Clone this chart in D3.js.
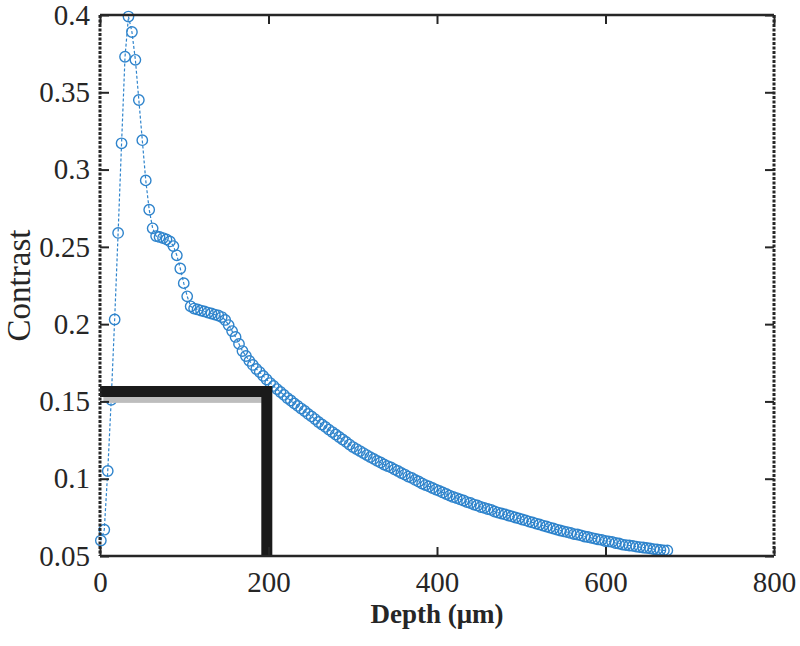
<!DOCTYPE html>
<html>
<head>
<meta charset="utf-8">
<script src="https://cdn.jsdelivr.net/npm/d3@7"></script>
<style>
  body { margin: 0; background: #fff; }
  text { font-family: "Liberation Serif", "Times New Roman", serif; fill: #262626; }
</style>
</head>
<body>
<svg id="chart" width="800" height="646"></svg>
<script>
// depth samples (µm)
const depth = [
  1.0, 5.1, 9.2, 13.3, 17.4, 21.5, 25.6, 29.7, 33.8, 37.9,
  42.0, 46.1, 50.2, 54.3, 58.4, 62.5, 66.6, 70.7, 74.8, 78.9,
  83.0, 87.1, 91.2, 95.3, 99.4, 103.5, 107.6, 111.7, 115.8, 119.9,
  124.0, 128.1, 132.2, 136.3, 140.4, 144.5, 148.6, 152.7, 156.8, 160.9,
  165.0, 169.1, 173.2, 177.3, 181.4, 185.5, 189.6, 193.7, 197.8, 201.9,
  206.0, 210.1, 214.2, 218.3, 222.4, 226.5, 230.6, 234.7, 238.8, 242.9,
  247.0, 251.1, 255.2, 259.3, 263.4, 267.5, 271.6, 275.7, 279.8, 283.9,
  288.0, 292.1, 296.2, 300.3, 304.4, 308.5, 312.6, 316.7, 320.8, 324.9,
  329.0, 333.1, 337.2, 341.3, 345.4, 349.5, 353.6, 357.7, 361.8, 365.9,
  370.0, 374.1, 378.2, 382.3, 386.4, 390.5, 394.6, 398.7, 402.8, 406.9,
  411.0, 415.1, 419.2, 423.3, 427.4, 431.5, 435.6, 439.7, 443.8, 447.9,
  452.0, 456.1, 460.2, 464.3, 468.4, 472.5, 476.6, 480.7, 484.8, 488.9,
  493.0, 497.1, 501.2, 505.3, 509.4, 513.5, 517.6, 521.7, 525.8, 529.9,
  534.0, 538.1, 542.2, 546.3, 550.4, 554.5, 558.6, 562.7, 566.8, 570.9,
  575.0, 579.1, 583.2, 587.3, 591.4, 595.5, 599.6, 603.7, 607.8, 611.9,
  616.0, 620.1, 624.2, 628.3, 632.4, 636.5, 640.6, 644.7, 648.8, 652.9,
  657.0, 661.1, 665.2, 669.3, 673.4
];
// contrast at each depth
const contrast = [
  0.060, 0.067, 0.105, 0.151, 0.203, 0.259, 0.317, 0.373, 0.399, 0.389,
  0.371, 0.345, 0.319, 0.293, 0.274, 0.262, 0.257, 0.2564, 0.2557, 0.2548,
  0.2535, 0.2505, 0.2445, 0.236, 0.2265, 0.218, 0.2115, 0.2101, 0.2095, 0.2088,
  0.2082, 0.2075, 0.2069, 0.2062, 0.2056, 0.2046, 0.2027, 0.1994, 0.1955, 0.1917,
  0.1872, 0.1826, 0.1794, 0.1762, 0.1736, 0.171, 0.169, 0.1665, 0.1642, 0.1619,
  0.160, 0.158, 0.1561, 0.1542, 0.1522, 0.1506, 0.1487, 0.1471, 0.1454, 0.1438,
  0.1419, 0.1403, 0.1386, 0.1367, 0.1351, 0.1335, 0.1318, 0.1302, 0.1286, 0.127,
  0.1254, 0.1238, 0.1221, 0.1205, 0.1192, 0.1179, 0.1166, 0.1153, 0.114, 0.1128,
  0.1115, 0.1105, 0.1092, 0.1082, 0.1073, 0.106, 0.105, 0.1037, 0.1027, 0.1014,
  0.1005, 0.0992, 0.0982, 0.0969, 0.0959, 0.095, 0.094, 0.093, 0.0921, 0.0911,
  0.0901, 0.0891, 0.0882, 0.0875, 0.0866, 0.0859, 0.0849, 0.0843, 0.0833, 0.0827,
  0.0817, 0.0811, 0.0804, 0.0798, 0.0788, 0.0781, 0.0775, 0.0769, 0.0762, 0.0756,
  0.0749, 0.0743, 0.0736, 0.073, 0.0723, 0.0717, 0.071, 0.0704, 0.0697, 0.0691,
  0.0684, 0.0678, 0.0671, 0.0665, 0.0659, 0.0655, 0.0649, 0.0642, 0.0639, 0.0633,
  0.0626, 0.0623, 0.0617, 0.0613, 0.0607, 0.0604, 0.0597, 0.0594, 0.0591, 0.0584,
  0.0581, 0.0574, 0.0571, 0.0568, 0.0565, 0.0561, 0.0558, 0.0555, 0.0552, 0.0549,
  0.0545, 0.0542, 0.0539, 0.0536, 0.0536
];

const xTicks = [0, 200, 400, 600, 800];
const xTickLabels = ["0", "200", "400", "600", "800"];
const yTicks = [0.05, 0.1, 0.15, 0.2, 0.25, 0.3, 0.35, 0.4];
const yTickLabels = ["0.05", "0.1", "0.15", "0.2", "0.25", "0.3", "0.35", "0.4"];

// threshold marker (black L shape)
const refDepth = 198;
const refContrast = 0.1565;

const mLeft = 100, mRight = 774, mTop = 15, mBottom = 556;
const blue = "#2f84cc";

const svg = d3.select("#chart");
svg.append("rect").attr("width", 800).attr("height", 646).attr("fill", "#fff");

const x = d3.scaleLinear().domain([0, 800]).range([mLeft, mRight]);
const y = d3.scaleLinear().domain([0.05, 0.4]).range([mBottom, mTop]);

const pts = depth.map((d, i) => [d, contrast[i]]);

// dashed connecting line
svg.append("path")
  .datum(pts)
  .attr("fill", "none")
  .attr("stroke", blue)
  .attr("stroke-width", 1.2)
  .attr("stroke-dasharray", "3,2")
  .attr("d", d3.line().x(d => x(d[0])).y(d => y(d[1])));

// circle markers
svg.append("g")
  .selectAll("circle")
  .data(pts)
  .join("circle")
    .attr("cx", d => x(d[0]))
    .attr("cy", d => y(d[1]))
    .attr("r", 5.2)
    .attr("fill", "none")
    .attr("stroke", blue)
    .attr("stroke-width", 1.4);

// grey shadow under the threshold bar
svg.append("rect")
  .attr("x", x(4))
  .attr("y", y(refContrast) + 5.5)
  .attr("width", x(refDepth) - x(4) - 5)
  .attr("height", 6)
  .attr("fill", "#bdbdbd");

// black L-shaped threshold bar
svg.append("path")
  .attr("d", d3.line()([[x(0), y(refContrast)], [x(refDepth), y(refContrast)], [x(refDepth), y(0.05)]]))
  .attr("fill", "none")
  .attr("stroke", "#1a1a1a")
  .attr("stroke-width", 11)
  .attr("stroke-linejoin", "miter");

// axes
const fs = 29;
const gx = svg.append("g").attr("transform", `translate(0,${mBottom})`)
  .call(d3.axisBottom(x).tickValues(xTicks).tickSize(-9).tickPadding(15)
    .tickFormat((d, i) => xTickLabels[i]));
const gy = svg.append("g").attr("transform", `translate(${mLeft},0)`)
  .call(d3.axisLeft(y).tickValues(yTicks).tickSize(-9).tickPadding(10)
    .tickFormat((d, i) => yTickLabels[i]));
const gt = svg.append("g").attr("transform", `translate(0,${mTop})`)
  .call(d3.axisTop(x).tickValues(xTicks).tickSize(-9).tickFormat(""));
const gr = svg.append("g").attr("transform", `translate(${mRight},0)`)
  .call(d3.axisRight(y).tickValues(yTicks).tickSize(-9).tickFormat(""));

[gx, gy, gt, gr].forEach(g => {
  g.select(".domain").remove();
  g.selectAll(".tick line").attr("stroke", "#262626").attr("stroke-width", 2);
  g.selectAll(".tick text").attr("font-size", fs).attr("font-family", "Liberation Serif").attr("fill", "#333");
});

// frame
svg.append("line").attr("x1", mLeft).attr("x2", mRight).attr("y1", mTop).attr("y2", mTop)
  .attr("stroke", "#262626").attr("stroke-width", 2.5);
svg.append("line").attr("x1", mLeft).attr("x2", mRight).attr("y1", mBottom).attr("y2", mBottom)
  .attr("stroke", "#262626").attr("stroke-width", 2.5);
svg.append("line").attr("x1", mLeft).attr("x2", mLeft).attr("y1", mTop).attr("y2", mBottom)
  .attr("stroke", "#262626").attr("stroke-width", 3).attr("stroke-dasharray", "3,1.5");
svg.append("line").attr("x1", mRight).attr("x2", mRight).attr("y1", mTop).attr("y2", mBottom)
  .attr("stroke", "#262626").attr("stroke-width", 3).attr("stroke-dasharray", "3,1.5");

// axis titles
svg.append("text")
  .attr("x", 437)
  .attr("y", 623)
  .attr("text-anchor", "middle")
  .attr("font-size", 27)
  .attr("font-weight", "bold")
  .attr("fill", "#333")
  .text("Depth (μm)");

svg.append("text")
  .attr("transform", `translate(30,${(mTop + mBottom) / 2}) rotate(-90)`)
  .attr("text-anchor", "middle")
  .attr("font-size", 33)
  .attr("fill", "#333")
  .text("Contrast");
</script>
</body>
</html>
